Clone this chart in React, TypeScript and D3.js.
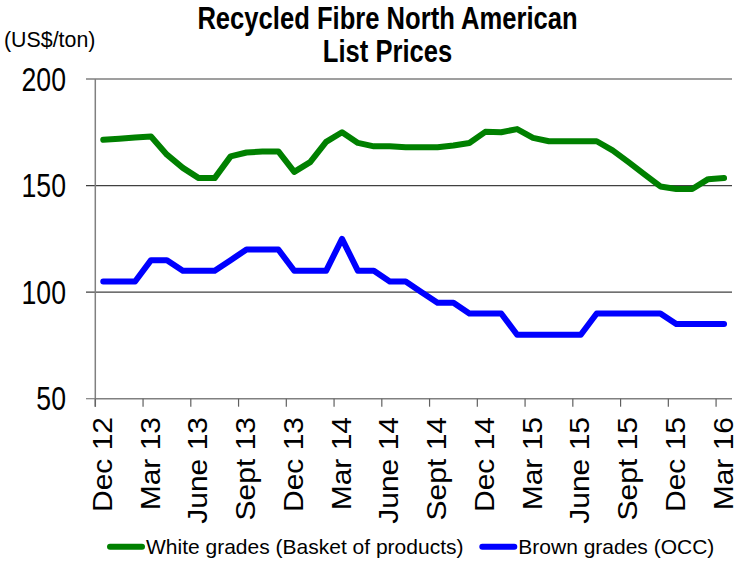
import React from "react";
import * as d3 from "d3";

// Monthly categories, Dec 2012 through Mar 2016
const months = [
  "Dec 12", "Jan 13", "Feb 13", "Mar 13", "Apr 13", "May 13", "June 13", "Jul 13", "Aug 13", "Sept 13",
  "Oct 13", "Nov 13", "Dec 13", "Jan 14", "Feb 14", "Mar 14", "Apr 14", "May 14", "June 14", "Jul 14",
  "Aug 14", "Sept 14", "Oct 14", "Nov 14", "Dec 14", "Jan 15", "Feb 15", "Mar 15", "Apr 15", "May 15",
  "June 15", "Jul 15", "Aug 15", "Sept 15", "Oct 15", "Nov 15", "Dec 15", "Jan 16", "Feb 16", "Mar 16",
];

// Labelled months on the category axis (every quarter)
const tickLabels = [
  "Dec 12", "Mar 13", "June 13", "Sept 13", "Dec 13", "Mar 14", "June 14",
  "Sept 14", "Dec 14", "Mar 15", "June 15", "Sept 15", "Dec 15", "Mar 16",
];

// White grades (basket of products), US$/ton
const whiteGrades = [
  171.5, 172, 172.5, 173, 164.5, 158.3, 153.5, 153.5, 163.7, 165.5,
  166, 166, 156.4, 161, 170.5, 175, 170, 168.4, 168.4, 168,
  168, 168, 168.8, 170, 175.2, 175, 176.5, 172.4, 170.8, 170.8,
  170.8, 170.8, 166.5, 161, 155.3, 149.6, 148.4, 148.4, 153, 153.5,
];

// Brown grades (OCC), US$/ton
const brownGrades = [
  105, 105, 105, 115, 115, 110, 110, 110, 115, 120,
  120, 120, 110, 110, 110, 125, 110, 110, 105, 105,
  100, 95, 95, 90, 90, 90, 80, 80, 80, 80,
  80, 90, 90, 90, 90, 90, 85, 85, 85, 85,
];

const yTicks = [50, 100, 150, 200];
const titleLines = ["Recycled Fibre North American", "List Prices"];
const unitLabel = "(US$/ton)";
const seriesNames = ["White grades (Basket of products)", "Brown grades (OCC)"];

const W = 737;
const H = 563;
const FONT = "'Liberation Sans', Arial, Helvetica, sans-serif";

export default function App() {
  const x = d3.scaleBand<string>().domain(months).range([95.3, 732]).padding(0);
  const y = d3.scaleLinear().domain([50, 200]).range([398.7, 79]);
  const cx = (m: string) => (x(m) as number) + x.bandwidth() / 2;

  const line = d3
    .line<number>()
    .x((_, i) => cx(months[i]))
    .y((v) => y(v));

  const axisLeft = x.range()[0];
  const axisRight = x.range()[1];
  const axisY = y(50);

  return (
    <div style={{ position: "absolute", left: 0, top: 0 }}>
      <svg width={W} height={H} style={{ display: "block", background: "#fff" }}>
        {/* title */}
        {titleLines.map((t, i) => (
          <text
            key={t}
            transform={`translate(387.5, ${29.3 + i * 32.4}) scale(0.8, 1)`}
            textAnchor="middle"
            fontFamily={FONT}
            fontWeight="bold"
            fontSize={32}
            fill="#000"
          >
            {t}
          </text>
        ))}

        {/* unit label */}
        <text
          transform="translate(4, 47) scale(0.93, 1)"
          fontFamily={FONT}
          fontSize={23}
          fill="#000"
        >
          {unitLabel}
        </text>

        {/* horizontal gridlines and value ticks */}
        {yTicks.map((v) => (
          <g key={v}>
            <line
              x1={86}
              x2={v === 50 ? axisLeft : axisRight}
              y1={y(v)}
              y2={y(v)}
              stroke={v === 50 ? "#808080" : "#404040"}
              strokeWidth={1.2}
            />
            <text
              transform={`translate(66, ${y(v) + 11.6}) scale(0.82, 1)`}
              textAnchor="end"
              fontFamily={FONT}
              fontSize={32.5}
              fill="#000"
            >
              {v}
            </text>
          </g>
        ))}

        {/* category axis */}
        <line x1={axisLeft} x2={axisRight} y1={axisY} y2={axisY} stroke="#808080" strokeWidth={1.5} />
        <line x1={axisLeft} x2={axisLeft} y1={y(200)} y2={axisY + 8} stroke="#808080" strokeWidth={1.5} />
        {tickLabels.map((lab) => (
          <g key={lab}>
            <line
              x1={x(lab) as number}
              x2={x(lab) as number}
              y1={axisY}
              y2={axisY + 8}
              stroke="#606060"
              strokeWidth={1.2}
            />
            <text
              transform={`translate(${cx(lab) + 8.6}, 417) scale(0.92, 1) rotate(-90)`}
              textAnchor="end"
              fontFamily={FONT}
              fontSize={30}
              fill="#000"
            >
              {lab}
            </text>
          </g>
        ))}

        {/* series */}
        <path
          d={line(whiteGrades) ?? ""}
          fill="none"
          stroke="#008000"
          strokeWidth={6}
          strokeLinejoin="round"
          strokeLinecap="round"
        />
        <path
          d={line(brownGrades) ?? ""}
          fill="none"
          stroke="#0000ff"
          strokeWidth={6}
          strokeLinejoin="round"
          strokeLinecap="round"
        />

        {/* legend */}
        <line x1={110} x2={142} y1={546.7} y2={546.7} stroke="#008000" strokeWidth={6} strokeLinecap="round" />
        <text x={146} y={554.3} fontFamily={FONT} fontSize={21} fill="#000">
          {seriesNames[0]}
        </text>
        <line x1={482.3} x2={514.3} y1={546.7} y2={546.7} stroke="#0000ff" strokeWidth={6} strokeLinecap="round" />
        <text x={518.3} y={554.3} fontFamily={FONT} fontSize={21} fill="#000">
          {seriesNames[1]}
        </text>
      </svg>
    </div>
  );
}
